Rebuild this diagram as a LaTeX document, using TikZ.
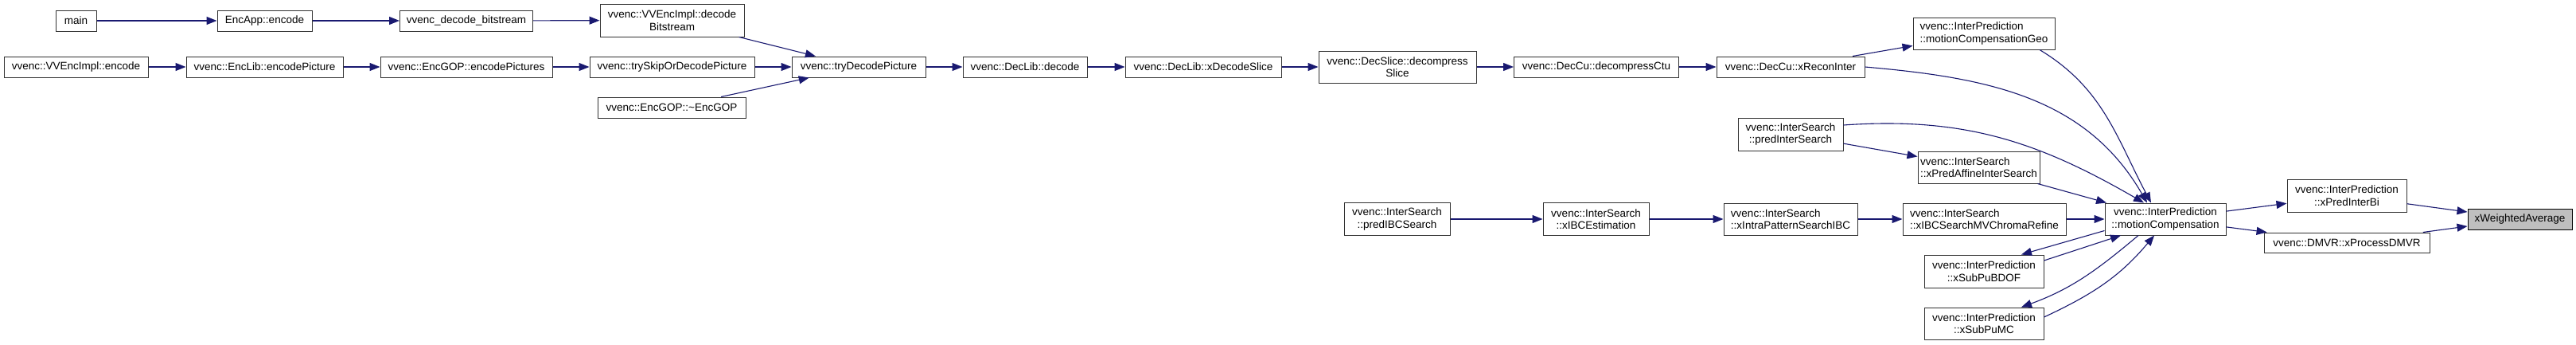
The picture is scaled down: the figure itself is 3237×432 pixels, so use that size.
\documentclass[tikz,border=0pt]{standalone}
\usepackage{fontspec}
\setmainfont{Liberation Sans}
\usetikzlibrary{arrows.meta}
\definecolor{midblue}{HTML}{191970}

\begin{document}
\begin{tikzpicture}[
        x=1pt, y=1pt,
        box/.style={rectangle, draw=black!80, line width=1pt, fill=white, align=center, font=\fontsize{13.5}{15.5}\selectfont, inner sep=0pt, minimum height=26pt},
        tallbox/.style={box, minimum height=41pt},
        leftbox/.style={tallbox, align=left},
        target/.style={box, fill=black!25, draw=black},
        arrow/.style={->, >={Triangle[length=13pt, width=10pt]}, line width=1.1pt, color=midblue}
    ]
        \useasboundingbox (0,0) rectangle (3237,-432);

        % Encoder side
        \node[box, minimum width=51pt] (main) at (95.5,-26) {main};
        \node[box, minimum width=119pt] (encapp) at (332.5,-26) {EncApp::encode};
        \node[box, minimum width=167pt] (decbits) at (586,-26) {vvenc\_decode\_bitstream};
        \node[tallbox, minimum width=181pt] (decodebs) at (844.5,-25.5) {vvenc::VVEncImpl::decode\\Bitstream};

        \node[box, minimum width=181pt] (implenc) at (95.5,-84) {vvenc::VVEncImpl::encode};
        \node[box, minimum width=197pt] (encpic) at (332.5,-84) {vvenc::EncLib::encodePicture};
        \node[box, minimum width=216pt] (encpics) at (586,-84) {vvenc::EncGOP::encodePictures};
        \node[box, minimum width=207pt] (tryskip) at (844.5,-84) {vvenc::trySkipOrDecodePicture};
        \node[box, minimum width=186pt] (gopdtor) at (844,-135) {vvenc::EncGOP::\textasciitilde EncGOP};

        % Decoder side
        \node[box, minimum width=168pt] (trydec) at (1079,-84) {vvenc::tryDecodePicture};
        \node[box, minimum width=156pt] (decode) at (1288,-84) {vvenc::DecLib::decode};
        \node[box, minimum width=196pt] (xdecslice) at (1512,-84) {vvenc::DecLib::xDecodeSlice};
        \node[tallbox, minimum width=198pt, minimum height=40pt] (decslice) at (1756,-84) {vvenc::DecSlice::decompress\\Slice};
        \node[box, minimum width=207pt] (decctu) at (2006,-84) {vvenc::DecCu::decompressCtu};
        \node[box, minimum width=186pt] (recon) at (2250,-84) {vvenc::DecCu::xReconInter};
        \node[leftbox, minimum width=178pt, minimum height=40pt] (mcgeo) at (2493,-42) {vvenc::InterPrediction\\::motionCompensationGeo};

        % Search
        \node[tallbox, minimum width=132pt] (predinter) at (2250,-168.5) {vvenc::InterSearch\\::predInterSearch};
        \node[leftbox, minimum width=153pt, minimum height=40pt] (affine) at (2486.5,-210) {vvenc::InterSearch\\::xPredAffineInterSearch};
        \node[tallbox, minimum width=133pt] (predibc) at (1755.5,-275) {vvenc::InterSearch\\::predIBCSearch};
        \node[tallbox, minimum width=133pt] (ibcest) at (2005.5,-275) {vvenc::InterSearch\\::xIBCEstimation};
        \node[leftbox, minimum width=168pt, minimum height=40pt] (intrapat) at (2250,-275) {vvenc::InterSearch\\::xIntraPatternSearchIBC};
        \node[leftbox, minimum width=205pt, minimum height=40pt] (chroma) at (2493.5,-275) {vvenc::InterSearch\\::xIBCSearchMVChromaRefine};

        % Prediction
        \node[tallbox, minimum width=152pt, minimum height=40pt] (mc) at (2721,-275) {vvenc::InterPrediction\\::motionCompensation};
        \node[tallbox, minimum width=150pt] (bdof) at (2493,-340.5) {vvenc::InterPrediction\\::xSubPuBDOF};
        \node[tallbox, minimum width=150pt, minimum height=40pt] (submc) at (2493,-406) {vvenc::InterPrediction\\::xSubPuMC};
        \node[tallbox, minimum width=150pt] (interbi) at (2949,-245.5) {vvenc::InterPrediction\\::xPredInterBi};
        \node[box, minimum width=208pt, minimum height=25pt] (dmvr) at (2949,-304.5) {vvenc::DMVR::xProcessDMVR};
        \node[target, minimum width=131pt] (wavg) at (3166.5,-275) {xWeightedAverage};

        % Arrows
        \draw[arrow] (main) -- (encapp);
        \draw[arrow] (encapp) -- (decbits);
        \draw[arrow] (decbits) -- (decodebs);
        \draw[arrow] (decodebs) -- (trydec);
        \draw[arrow] (implenc) -- (encpic);
        \draw[arrow] (encpic) -- (encpics);
        \draw[arrow] (encpics) -- (tryskip);
        \draw[arrow] (tryskip) -- (trydec);
        \draw[arrow] (gopdtor) -- (trydec);
        \draw[arrow] (trydec) -- (decode);
        \draw[arrow] (decode) -- (xdecslice);
        \draw[arrow] (xdecslice) -- (decslice);
        \draw[arrow] (decslice) -- (decctu);
        \draw[arrow] (decctu) -- (recon);
        \draw[arrow] (recon) -- (mcgeo);

        % Into motion compensation
        \draw[arrow] (recon.east) to[out=-5, in=120] ([xshift=-23pt]mc.north);
        \draw[arrow] ([xshift=70pt]mcgeo.south) to[out=-31, in=118] ([xshift=-18pt]mc.north);
        \draw[arrow] ([yshift=11.5pt]predinter.east) to[out=4, in=150] ([xshift=-27pt]mc.north);
        \draw[arrow] (predinter) -- (affine);
        \draw[arrow] (affine) -- (mc);
        \draw[arrow] (predibc) -- (ibcest);
        \draw[arrow] (ibcest) -- (intrapat);
        \draw[arrow] (intrapat) -- (chroma);
        \draw[arrow] (chroma) -- (mc);

        % Sub-PU loops
        \draw[arrow] ([yshift=6pt]mc.south west) -- ([xshift=47pt]bdof.north);
        \draw[arrow] ([yshift=13.5pt]bdof.east) -- ([xshift=-56pt]mc.south);
        \draw[arrow] ([xshift=-34pt]mc.south) to[out=-140, in=20] ([xshift=47pt]submc.north);
        \draw[arrow] ([yshift=8pt]submc.east) to[out=25, in=-130] ([xshift=-14pt]mc.south);

        % Weighted average
        \draw[arrow] (mc) -- (interbi);
        \draw[arrow] (mc) -- (dmvr);
        \draw[arrow] (interbi) -- (wavg);
        \draw[arrow] (dmvr) -- (wavg);
    \end{tikzpicture}
\end{document}
